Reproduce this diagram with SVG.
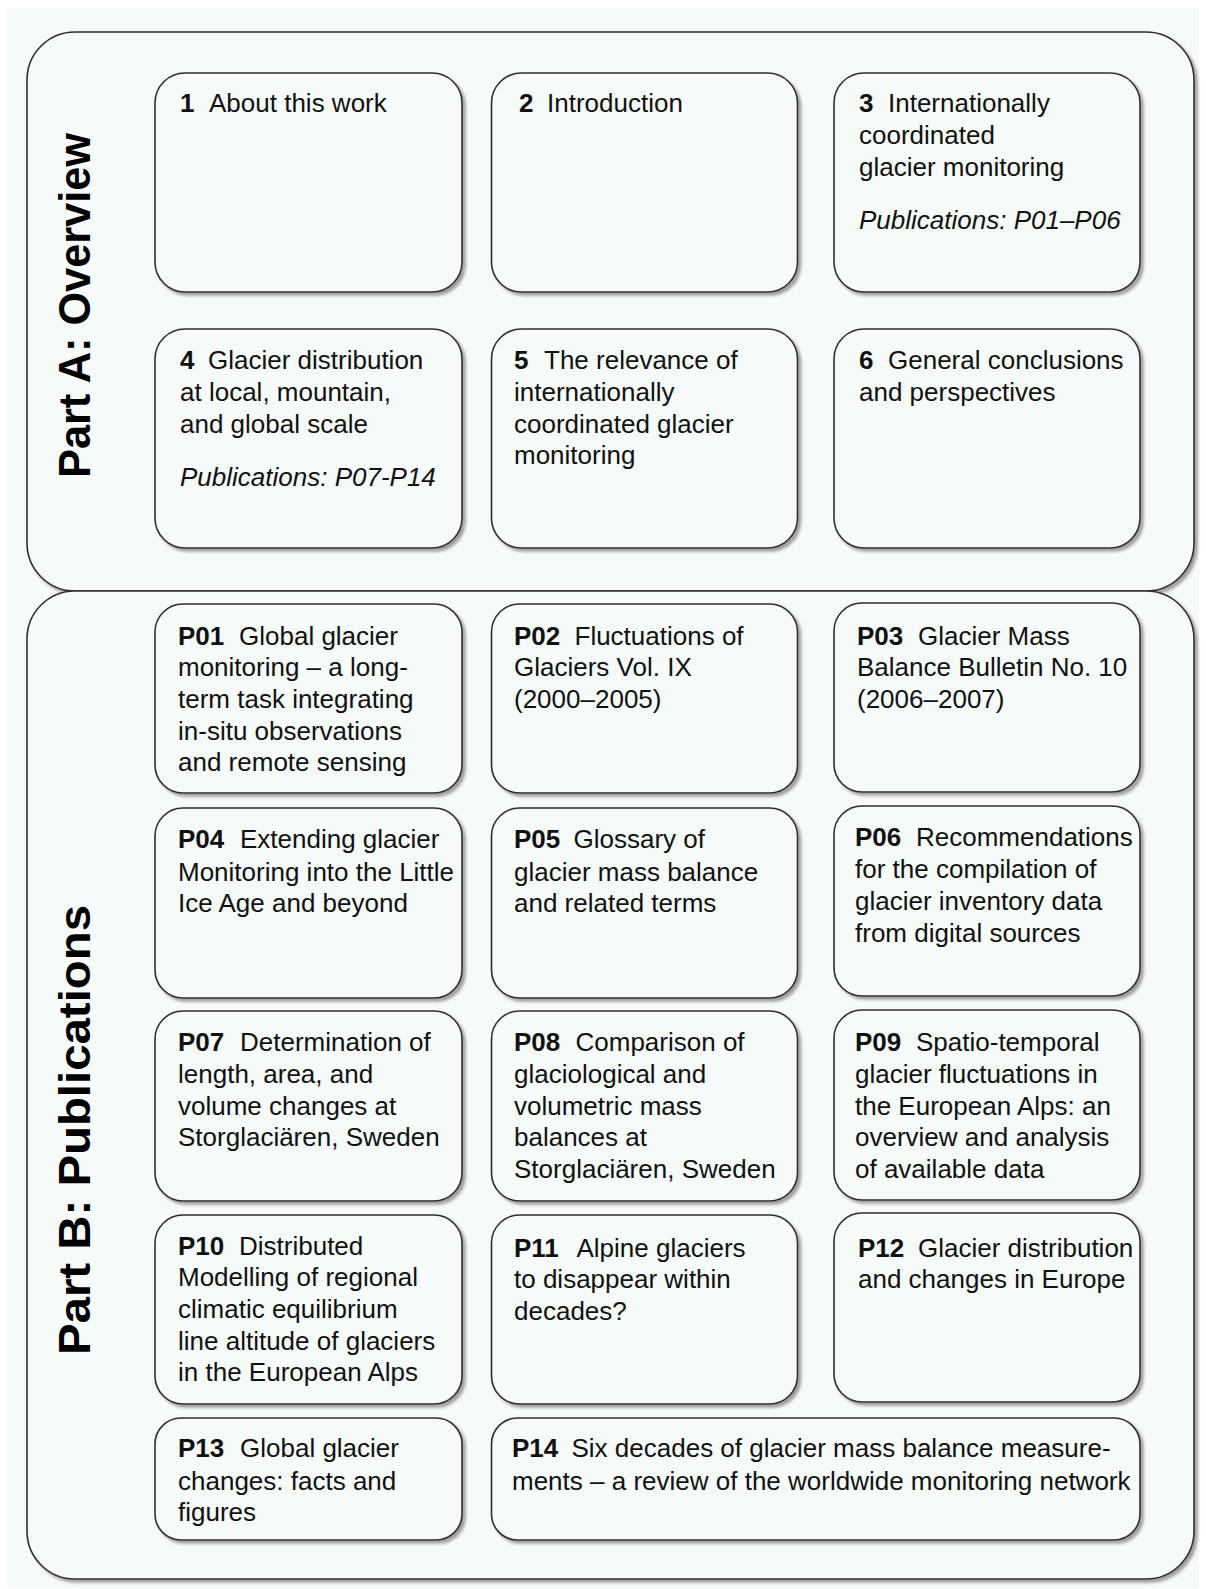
<svg xmlns="http://www.w3.org/2000/svg" width="1206" height="1589" viewBox="0 0 1206 1589">
<defs>
<filter id="sh" x="-5%" y="-5%" width="115%" height="115%">
<feDropShadow dx="3" dy="3" stdDeviation="1.5" flood-color="#7a7a7a" flood-opacity="0.7"/>
</filter>
<style>
.part{fill:#f6faf8;stroke:#2e2e2e;stroke-width:1.6;filter:url(#sh)}
.node{fill:#f6faf8;stroke:#2e2e2e;stroke-width:1.6;filter:url(#sh)}
text{font-family:"Liberation Sans",Arial,sans-serif;font-size:26px;fill:#111}
.b{font-weight:bold}
.i{font-style:italic}
.title{font-weight:bold;font-size:44px;fill:#000}
</style>
</defs>
<rect x="0" y="0" width="1206" height="1589" fill="#ffffff"/>
<rect x="7" y="8" width="1192" height="1580" fill="#f6faf8"/>

<g id="partA">
<rect class="part" x="27" y="32" width="1167" height="559" rx="48"/>
<text class="title" transform="translate(90,478) rotate(-90)" textLength="345" lengthAdjust="spacingAndGlyphs">Part A: Overview</text>
</g>
<g id="partB">
<rect class="part" x="27" y="591" width="1167" height="988" rx="48"/>
<text class="title" transform="translate(90,1355) rotate(-90)" textLength="450" lengthAdjust="spacingAndGlyphs">Part B: Publications</text>
</g>

<g id="connectors"/>

<g id="n1"><rect class="node" x="155" y="73" width="307" height="219" rx="30"/>
<text x="180" y="112"><tspan class="b">1</tspan><tspan x="209">About this work</tspan></text></g>
<g id="n2"><rect class="node" x="491.5" y="73" width="306" height="219" rx="30"/>
<text x="519" y="112"><tspan class="b">2</tspan><tspan x="547">Introduction</tspan></text></g>
<g id="n3"><rect class="node" x="834" y="73" width="306" height="219" rx="30"/>
<text x="859" y="112"><tspan class="b">3</tspan><tspan x="888">Internationally</tspan><tspan x="859" y="144">coordinated</tspan><tspan x="859" y="175.5">glacier monitoring</tspan><tspan class="i" x="859" y="229">Publications: P01–P06</tspan></text></g>
<g id="n4"><rect class="node" x="155" y="329" width="307" height="219" rx="30"/>
<text x="180" y="369"><tspan class="b">4</tspan><tspan x="208">Glacier distribution</tspan><tspan x="180" y="400.5">at local, mountain,</tspan><tspan x="180" y="432.5">and global scale</tspan><tspan class="i" x="180" y="485.5">Publications: P07-P14</tspan></text></g>
<g id="n5"><rect class="node" x="491.5" y="329" width="306" height="219" rx="30"/>
<text x="514" y="369"><tspan class="b">5</tspan><tspan x="544">The relevance of</tspan><tspan x="514" y="400.5">internationally</tspan><tspan x="514" y="432.5">coordinated glacier</tspan><tspan x="514" y="464">monitoring</tspan></text></g>
<g id="n6"><rect class="node" x="834" y="329" width="306" height="219" rx="30"/>
<text x="859" y="369"><tspan class="b">6</tspan><tspan x="888">General conclusions</tspan><tspan x="859" y="400.5">and perspectives</tspan></text></g>

<g id="p01"><rect class="node" x="155" y="604" width="307" height="189" rx="28"/>
<text x="178" y="644.5"><tspan class="b">P01</tspan><tspan x="239">Global glacier</tspan><tspan x="178" y="676">monitoring – a long-</tspan><tspan x="178" y="707.5">term task integrating</tspan><tspan x="178" y="740">in-situ observations</tspan><tspan x="178" y="771">and remote sensing</tspan></text></g>
<g id="p02"><rect class="node" x="491.5" y="604" width="306" height="189" rx="28"/>
<text x="514" y="644.5"><tspan class="b">P02</tspan><tspan x="574.5">Fluctuations of</tspan><tspan x="514" y="676">Glaciers Vol. IX</tspan><tspan x="514" y="707.5">(2000–2005)</tspan></text></g>
<g id="p03"><rect class="node" x="834" y="603" width="306" height="189" rx="28"/>
<text x="857" y="644.5"><tspan class="b">P03</tspan><tspan x="918">Glacier Mass</tspan><tspan x="857" y="676">Balance Bulletin No. 10</tspan><tspan x="857" y="707.5">(2006–2007)</tspan></text></g>

<g id="p04"><rect class="node" x="155" y="808" width="307" height="190" rx="28"/>
<text x="178" y="848"><tspan class="b">P04</tspan><tspan x="240">Extending glacier</tspan><tspan x="178" y="880.5">Monitoring into the Little</tspan><tspan x="178" y="912">Ice Age and beyond</tspan></text></g>
<g id="p05"><rect class="node" x="491.5" y="808" width="306" height="190" rx="28"/>
<text x="514" y="848"><tspan class="b">P05</tspan><tspan x="573.5">Glossary of</tspan><tspan x="514" y="880.5">glacier mass balance</tspan><tspan x="514" y="912">and related terms</tspan></text></g>
<g id="p06"><rect class="node" x="834" y="806" width="306" height="190" rx="28"/>
<text x="855" y="846"><tspan class="b">P06</tspan><tspan x="916">Recommendations</tspan><tspan x="855" y="877.5">for the compilation of</tspan><tspan x="855" y="910">glacier inventory data</tspan><tspan x="855" y="941.5">from digital sources</tspan></text></g>

<g id="p07"><rect class="node" x="155" y="1011" width="307" height="190" rx="28"/>
<text x="178" y="1051"><tspan class="b">P07</tspan><tspan x="240">Determination of</tspan><tspan x="178" y="1082.5">length, area, and</tspan><tspan x="178" y="1115">volume changes at</tspan><tspan x="178" y="1146">Storglaciären, Sweden</tspan></text></g>
<g id="p08"><rect class="node" x="491.5" y="1011" width="306" height="190" rx="28"/>
<text x="514" y="1051"><tspan class="b">P08</tspan><tspan x="575.5">Comparison of</tspan><tspan x="514" y="1082.5">glaciological and</tspan><tspan x="514" y="1115">volumetric mass</tspan><tspan x="514" y="1146">balances at</tspan><tspan x="514" y="1177.5">Storglaciären, Sweden</tspan></text></g>
<g id="p09"><rect class="node" x="834" y="1010" width="306" height="190" rx="28"/>
<text x="855" y="1051"><tspan class="b">P09</tspan><tspan x="916">Spatio-temporal</tspan><tspan x="855" y="1082.5">glacier fluctuations in</tspan><tspan x="855" y="1115">the European Alps: an</tspan><tspan x="855" y="1146">overview and analysis</tspan><tspan x="855" y="1177.5">of available data</tspan></text></g>

<g id="p10"><rect class="node" x="155" y="1215" width="307" height="189" rx="28"/>
<text x="178" y="1254.5"><tspan class="b">P10</tspan><tspan x="239">Distributed</tspan><tspan x="178" y="1286">Modelling of regional</tspan><tspan x="178" y="1317.5">climatic equilibrium</tspan><tspan x="178" y="1350">line altitude of glaciers</tspan><tspan x="178" y="1381">in the European Alps</tspan></text></g>
<g id="p11"><rect class="node" x="491.5" y="1215" width="306" height="189" rx="28"/>
<text x="514" y="1256.5"><tspan class="b">P11</tspan><tspan x="576.5">Alpine glaciers</tspan><tspan x="514" y="1288">to disappear within</tspan><tspan x="514" y="1319.5">decades?</tspan></text></g>
<g id="p12"><rect class="node" x="834" y="1213" width="306" height="189" rx="28"/>
<text x="858" y="1256.5"><tspan class="b">P12</tspan><tspan x="918">Glacier distribution</tspan><tspan x="858" y="1288">and changes in Europe</tspan></text></g>

<g id="p13"><rect class="node" x="155" y="1418" width="307" height="122" rx="26"/>
<text x="178" y="1457"><tspan class="b">P13</tspan><tspan x="240">Global glacier</tspan><tspan x="178" y="1489.5">changes: facts and</tspan><tspan x="178" y="1521">figures</tspan></text></g>
<g id="p14"><rect class="node" x="491.5" y="1418" width="648.5" height="122" rx="26"/>
<text x="512" y="1457"><tspan class="b">P14</tspan><tspan x="571.5">Six decades of glacier mass balance measure-</tspan><tspan x="512" y="1489.5">ments – a review of the worldwide monitoring network</tspan></text></g>
</svg>
